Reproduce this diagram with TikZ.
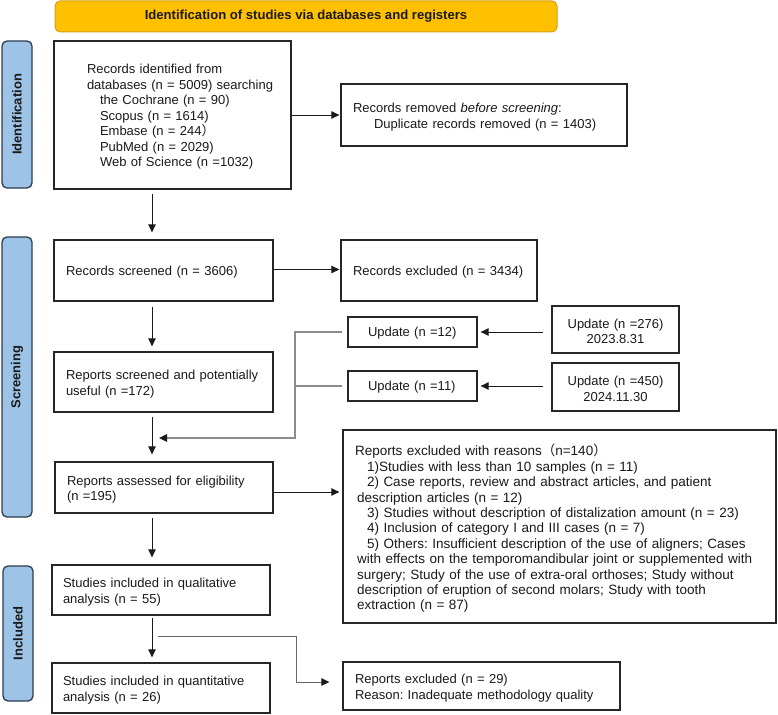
\documentclass[tikz,border=0pt]{standalone}
\usepackage{fontspec}
\setmainfont{Liberation Sans}
\newfontfamily\cjk{Noto Sans CJK SC}
\usetikzlibrary{arrows.meta,calc}
\definecolor{txt}{HTML}{1A1A1A}
\definecolor{boxc}{HTML}{262626}
\definecolor{orfill}{HTML}{FFC000}
\definecolor{ordraw}{HTML}{D4A017}
\definecolor{blfill}{HTML}{9DC3E6}
\definecolor{bldraw}{HTML}{2E3B4E}
\definecolor{grayl}{HTML}{8C8C8C}
\definecolor{grayd}{HTML}{666666}
\frenchspacing
\newcommand{\lowerby}{\endgraf\vspace*{-4pt}}
\begin{document}
\begin{tikzpicture}[x=1pt,y=-1pt,
  bx/.style n args={3}{draw=boxc, line width=1.3pt, fill=white, text=txt,
    minimum width=#1pt, minimum height=#2pt, text width=#1pt,
    inner xsep=0pt, inner ysep=0pt, align=left,
    font=\fontsize{13}{15.5}\selectfont,
    execute at begin node={\leftskip=#3pt\relax},
    execute at end node={\lowerby}},
  cbx/.style n args={2}{draw=boxc, line width=1.3pt, fill=white, text=txt,
    minimum width=#1pt, minimum height=#2pt, text width=#1pt, inner sep=0pt,
    align=center, font=\fontsize{13}{15.5}\selectfont,
    execute at end node={\lowerby}},
  side/.style n args={2}{draw=bldraw, fill=blfill, line width=1.3pt,
    rounded corners=5pt, rotate=90, minimum width=#1pt, minimum height=#2pt,
    inner sep=0pt, text=txt, font=\fontsize{13}{15}\selectfont\bfseries},
  tip/.style={-{Triangle[length=8pt,width=7.5pt,color=txt]}},
  arr/.style={draw=txt, line width=0.9pt, tip},
  gl/.style={draw=grayl, line width=1.2pt},
  gld/.style={draw=grayd, line width=1pt}]
\useasboundingbox (0,0) rectangle (778,714);

% title
\node[draw=ordraw, fill=orfill, line width=1pt, rounded corners=5pt,
  minimum width=502pt, minimum height=31pt, inner sep=0pt, text=txt,
  font=\fontsize{13.1}{15}\selectfont\bfseries] (title) at (306,16.5)
  {Identification of studies via databases and registers};

% side bars
\node[side={147}{30}] (sid) at (17,114.5) {Identification};
\node[side={280}{30}] (sscr) at (17,377) {Screening};
\node[side={135}{30}] (sinc) at (18,633.5) {Included};

% boxes
\node[bx={237}{148}{33}] (b1) at (172.5,115)
  {Records identified from\\
   databases (n = 5009) searching\\
   \hspace*{13pt}the Cochrane (n = 90)\\
   \hspace*{13pt}Scopus (n = 1614)\\
   \hspace*{13pt}Embase (n = 244{\cjk ）}\\
   \hspace*{13pt}PubMed (n = 2029)\\
   \hspace*{13pt}Web of Science (n =1032)};
\node[bx={286}{62}{12}] (dup) at (484,115)
  {Records removed \textit{before screening}:\\
   \hspace*{21pt}Duplicate records removed (n = 1403)};
\node[bx={219}{61}{12}] (scr) at (163.5,270.5) {Records screened (n = 3606)};
\node[bx={196}{61}{12}] (excl) at (439,270.5) {Records excluded (n = 3434)};
\node[bx={219}{60}{12}] (rsu) at (163.5,382)
  {Reports screened and potentially\\useful (n =172)};
\node[bx={129}{30}{20}] (u12) at (412.5,332) {Update (n =12)};
\node[bx={129}{30}{20}] (u11) at (412.5,386) {Update (n =11)};
\node[cbx={127}{47}] (u276) at (615.5,329.5) {Update (n =276)\\2023.8.31};
\node[cbx={127}{48}] (u450) at (615.5,387) {Update (n =450)\\2024.11.30};
\node[bx={218}{51}{12}] (ras) at (164,487.5)
  {Reports assessed for eligibility\\(n =195)};
\node[bx={433}{193}{12}, font=\fontsize{13.5}{15.4}\selectfont] (reas) at (559.5,526.5)
  {Reports excluded with reasons{\cjk （}n=140{\cjk ）}\\
   \hspace*{12pt}1)Studies with less than 10 samples (n = 11)\\
   \hspace*{12pt}2) Case reports, review and abstract articles, and patient\\
   \hspace*{2pt}description articles (n = 12)\\
   \hspace*{12pt}3) Studies without description of distalization amount (n = 23)\\
   \hspace*{12pt}4) Inclusion of category I and III cases (n = 7)\\
   \hspace*{12pt}5) Others: Insufficient description of the use of aligners; Cases\\
   \hspace*{2pt}with effects on the temporomandibular joint or supplemented with\\
   \hspace*{2pt}surgery; Study of the use of extra-oral orthoses; Study without\\
   \hspace*{2pt}description of eruption of second molars; Study with tooth\\
   \hspace*{2pt}extraction (n = 87)};
\node[bx={218}{50}{11}] (qual) at (161,590)
  {Studies included in qualitative\\analysis (n = 55)};
\node[bx={218}{50}{11}] (quant) at (161,688)
  {Studies included in quantitative\\analysis (n = 26)};
\node[bx={277}{48}{12}] (rex) at (481.5,686)
  {Reports excluded (n = 29)\\Reason: Inadequate methodology quality};

% helper coordinates
\coordinate (col) at (152,0);
\coordinate (bus) at (295,438);
\coordinate (mrg) at (159,438);
\coordinate (br) at (158,636);
\coordinate (brk) at (296,0);

% vertical flow
\draw[arr, shorten <=4pt, shorten >=7pt] (b1.south -| col) -- (scr.north -| col);
\draw[arr, shorten <=5pt, shorten >=5pt] (scr.south -| col) -- (rsu.north -| col);
\draw[arr, shorten <=4pt, shorten >=7pt] (rsu.south -| col) -- (ras.north -| col);
\draw[arr, shorten <=4pt, shorten >=7pt] (ras.south -| col) -- (qual.north -| col);
\draw[arr, shorten <=2pt, shorten >=5pt] (qual.south -| col) -- (quant.north -| col);

% horizontal exclusions
\draw[arr, shorten >=1pt] (b1.east) -- (b1.east -| dup.west);
\draw[arr, shorten >=1pt] ([yshift=1pt]scr.east) -- ([yshift=1pt]scr.east -| excl.west);
\draw[arr, shorten >=3pt] ([yshift=-4.5pt]ras.east) -- ([yshift=-4.5pt]ras.east -| reas.west);

% updates
\draw[arr, shorten <=8pt, shorten >=3pt] (u276.west |- u12.east) -- (u12.east);
\draw[arr, shorten <=8pt, shorten >=3pt] (u450.west |- u11.east) -- (u11.east);
\draw[gl, tip] ([xshift=-5pt]u12.west) -| (bus) -- (mrg);
\draw[gl] ([xshift=-5pt]u11.west) -- (u11.west -| bus);

% branch to reports excluded (n = 29)
\draw[gld, tip, shorten >=13pt]
  (br) -- (br -| brk) |- ([yshift=4pt]rex.west);
\end{tikzpicture}
\end{document}
